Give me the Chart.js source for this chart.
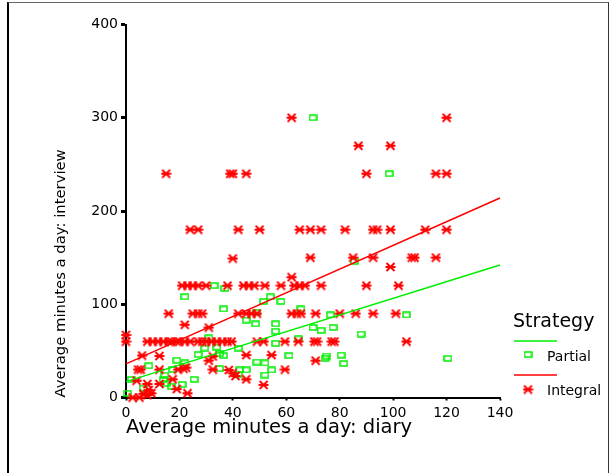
<!DOCTYPE html>
<html>
<head>
<meta charset="utf-8">
<script src="https://cdn.jsdelivr.net/npm/chart.js@4"></script>
<style>
html,body{margin:0;padding:0;background:#fff;}
#wrap{position:relative;width:612px;height:473px;overflow:hidden;background:#fff;}
#frame{position:absolute;left:7px;top:2px;width:599px;height:480px;border-left:2px solid #000;border-top:1px solid #666;border-right:1px solid #333;}
#c{position:absolute;left:0;top:0;}
</style>
</head>
<body>
<div id="wrap"><div id="frame"></div><canvas id="c" width="612" height="473"></canvas></div>
<script>
// ---- data ----
const xTicks = [0, 20, 40, 60, 80, 100, 120, 140];
const yTicks = [0, 100, 200, 300, 400];
const xTitle = 'Average minutes a day: diary';
const yTitle = 'Average minutes a day: interview';
const legendTitle = 'Strategy';
const seriesNames = ['Partial', 'Integral'];

const partialX = [22, 19, 22, 27, 8.5, 17.5, 14.5, 14, 15, 17,
  21, 25.5, 2, 0.5, 6.5, 54, 51.5, 58, 36.5, 49,
  45, 48.5, 56, 56, 31, 29.5, 42, 56, 35, 36.5,
  34, 49, 52, 35, 42.5, 45, 42, 54.5, 52, 61,
  65.5, 76.5, 105, 70, 73, 77.5, 88, 64.5, 75, 74.5,
  80.5, 81.5, 120.5, 85.5, 70, 98.5, 33, 37];
const partialY = [108, 40, 37, 46, 34, 30, 24, 19, 15, 12,
  14, 19.5, 19.5, 4.5, 10, 108, 103, 103, 95, 91,
  83, 79, 79, 71, 64, 53, 53, 58, 47, 45,
  54, 38, 37, 31, 29.5, 29.5, 25, 29.5, 24, 45,
  95, 88.5, 88.5, 75, 72, 75, 68, 63, 44.5, 42,
  45.5, 36.5, 42, 146, 300, 240, 120, 117];

const integralX = [62, 120,
  87, 99,
  15, 39, 40, 45, 90, 116, 120,
  24, 27, 42, 50, 65, 69, 73, 82, 92.5, 94, 99, 112, 120,
  40, 69, 85, 92.5, 107, 108, 116,
  99, 62,
  21, 23, 25, 27, 30, 38, 44, 46, 48, 52, 58, 63, 65, 67, 73, 90, 102,
  16, 25, 27, 28.5, 42, 45, 47, 49, 62, 64, 65.5, 71, 80, 86, 92.5, 101,
  22, 31, 0, 0,
  8, 10, 12, 14, 16, 17, 19, 20, 22, 24, 27, 28.5, 30, 32, 34, 36, 38, 39.5, 49, 51.5, 59.5, 64.5, 70.5, 71.5, 77, 78, 105,
  6, 12.5, 4, 4.5, 5.5, 12.5, 19.5, 21.5, 22.5, 8, 8.5, 12.5, 17.5, 19, 23, 2.5, 6.5, 8, 9.5, 5,
  32.5, 45, 54.5, 31, 32.5, 38.5, 40, 41, 45, 51.5, 59.5, 71];
const integralY = [300, 300,
  270, 270,
  240, 240, 240, 240, 240, 240, 240,
  180, 180, 180, 180, 180, 180, 180, 180, 180, 180, 180, 180, 180,
  149, 150, 150, 150, 150, 150, 150,
  140, 129,
  120, 120, 120, 120, 120, 120, 120, 120, 120, 120, 120, 120, 120, 120, 120, 120, 120,
  90, 90, 90, 90, 90, 90, 90, 90, 90, 90, 90, 90, 90, 90, 90, 90,
  78, 75, 67, 60,
  60, 60, 60, 60, 60, 60, 60, 60, 60, 60, 60, 60, 60, 60, 60, 60, 60, 60, 60, 60, 60, 60, 60, 60, 60, 60, 60,
  45, 44.5, 18, 30, 30, 30, 30, 31, 32, 14.5, 8, 14.5, 19.5, 9, 4.5, 0, 4, 2.5, 4.5, 0,
  44, 45.5, 45.5, 39.5, 30, 29.5, 26, 23, 19.5, 13.5, 30, 39.5];

// fitted lines (end points)
const fitX = [0, 140];
const partialFitY = [17, 142];
const integralFitY = [36, 214];

// ---- styles ----
const GREEN = '#00ee00';
const RED = '#ff0000';
const FONT = 'DejaVu Sans';

function makeSquare() {
  const c = document.createElement('canvas');
  c.width = 9; c.height = 7;
  const g = c.getContext('2d');
  g.strokeStyle = GREEN; g.lineWidth = 1.5;
  g.strokeRect(1, 1, 7, 5);
  return c;
}
function makeStar() {
  const c = document.createElement('canvas');
  c.width = 11; c.height = 10;
  const g = c.getContext('2d');
  g.strokeStyle = RED; g.lineWidth = 1.9; g.lineCap = 'butt';
  g.beginPath();
  g.moveTo(0.5, 5); g.lineTo(10.5, 5);
  g.moveTo(1.5, 1); g.lineTo(9.5, 9);
  g.moveTo(9.5, 1); g.lineTo(1.5, 9);
  g.stroke();
  return c;
}
const squareImg = makeSquare();
const starImg = makeStar();

const pts = (xs, ys) => xs.map((x, i) => ({x: x, y: ys[i]}));

const legendPlugin = {
  id: 'strategyLegend',
  afterDraw(chart) {
    const ctx = chart.ctx;
    ctx.save();
    ctx.fillStyle = '#000';
    ctx.textAlign = 'left';
    ctx.textBaseline = 'middle';
    ctx.font = '19px "' + FONT + '"';
    ctx.fillText(legendTitle, 513, 322);
    const rows = [
      {color: GREEN, img: squareImg, lineY: 341, markY: 354.5, textY: 357},
      {color: RED, img: starImg, lineY: 375, markY: 389.5, textY: 391}
    ];
    ctx.font = '14px "' + FONT + '"';
    rows.forEach((r, i) => {
      ctx.strokeStyle = r.color;
      ctx.lineWidth = 1.5;
      ctx.beginPath();
      ctx.moveTo(514, r.lineY); ctx.lineTo(557, r.lineY);
      ctx.stroke();
      ctx.drawImage(r.img, 528 - r.img.width / 2, r.markY - r.img.height / 2);
      ctx.fillStyle = '#000';
      ctx.fillText(seriesNames[i], 547, r.textY);
    });
    ctx.restore();
  }
};

new Chart(document.getElementById('c'), {
  type: 'scatter',
  data: {
    datasets: [
      {type: 'line', label: seriesNames[0] + ' fit', data: pts(fitX, partialFitY), borderColor: GREEN, borderWidth: 1.5, pointRadius: 0, fill: false, clip: false},
      {type: 'line', label: seriesNames[1] + ' fit', data: pts(fitX, integralFitY), borderColor: RED, borderWidth: 1.5, pointRadius: 0, fill: false, clip: false},
      {type: 'scatter', label: seriesNames[1], data: pts(integralX, integralY), pointStyle: starImg, radius: 5, clip: false},
      {type: 'scatter', label: seriesNames[0], data: pts(partialX, partialY), pointStyle: squareImg, radius: 4, clip: false}
    ]
  },
  options: {
    responsive: false,
    animation: false,
    events: [],
    layout: {padding: {left: 0, right: 112, top: 24.5, bottom: 0}},
    plugins: {legend: {display: false}, tooltip: {enabled: false}},
    scales: {
      x: {
        type: 'linear', min: 0, max: 140,
        afterBuildTicks: s => { s.ticks = xTicks.map(v => ({value: v})); },
        grid: {drawOnChartArea: false, drawTicks: true, tickLength: 3, tickWidth: 2, tickColor: '#000'},
        border: {display: true, color: '#000', width: 2},
        ticks: {color: '#000', font: {family: FONT, size: 14}, padding: 4, maxRotation: 0, autoSkip: false},
        title: {display: true, text: xTitle, align: 'start', color: '#000', font: {family: FONT, size: 19.5}, padding: {top: 0, bottom: 33}},
        afterFit: s => { s.height = 75.5; }
      },
      y: {
        type: 'linear', min: 0, max: 400,
        afterBuildTicks: s => { s.ticks = yTicks.map(v => ({value: v})); },
        grid: {drawOnChartArea: false, drawTicks: true, tickLength: 5, tickWidth: 3, tickColor: '#000'},
        border: {display: true, color: '#000', width: 2},
        ticks: {color: '#000', font: {family: FONT, size: 14}, padding: 3, autoSkip: false},
        title: {display: true, text: yTitle, align: 'start', color: '#000', font: {family: FONT, size: 14.8}, padding: {top: 52, bottom: 0}},
        afterFit: s => { s.width = 126; }
      }
    }
  },
  plugins: [legendPlugin]
});
</script>
</body>
</html>
